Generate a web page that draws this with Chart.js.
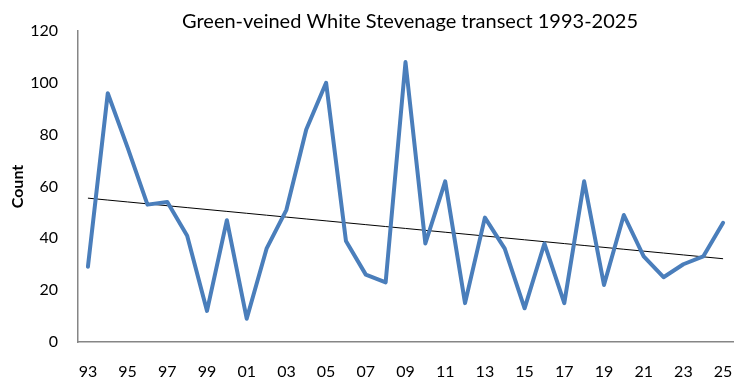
<!DOCTYPE html>
<html>
<head>
<meta charset="utf-8">
<script src="https://cdn.jsdelivr.net/npm/chart.js@4"></script>
<style>
  html, body { margin: 0; padding: 0; background: #fff; }
  #wrap { width: 746px; height: 386px; }
</style>
</head>
<body>
<div id="wrap"><canvas id="gvwChart" width="746" height="386"></canvas></div>
<script>
// Green-veined White counts, Stevenage transect
const years = ['93','94','95','96','97','98','99','00','01','02','03','04','05','06','07','08','09',
               '10','11','12','13','14','15','16','17','18','19','20','21','22','23','24','25'];
const counts = [29, 96, 75, 53, 54, 41, 12, 47, 9, 36, 51, 82, 100, 39, 26, 23, 108,
                38, 62, 15, 48, 36, 13, 38, 15, 62, 22, 49, 33, 25, 30, 33, 46];
const yTicks = [0, 20, 40, 60, 80, 100, 120];

// linear trendline (least squares over the year index)
function trend(values) {
    const n = values.length;
    let sx = 0, sy = 0, sxy = 0, sxx = 0;
    values.forEach((v, i) => { sx += i; sy += v; sxy += i * v; sxx += i * i; });
    const slope = (n * sxy - sx * sy) / (n * sxx - sx * sx);
    const icpt = (sy - slope * sx) / n;
    return values.map((v, i) => icpt + slope * i);
}

// title centred over the plot area, like the original
const titlePlugin = {
    id: 'plotTitle',
    afterDraw(chart) {
        const c = chart.ctx;
        c.save();
        c.font = '20px Lato';
        c.fillStyle = '#000';
        c.textAlign = 'center';
        c.textBaseline = 'alphabetic';
        c.fillText('Green-veined White Stevenage transect 1993-2025', 410, 28);
        c.restore();
    }
};

const ctx = document.getElementById('gvwChart').getContext('2d');

const gvwChart = new Chart(ctx, {
    type: 'line',
    data: {
        labels: years,
        datasets: [{
            label: 'Count',
            data: counts,
            borderColor: '#4A7EBB',
            borderWidth: 4,
            borderJoinStyle: 'round',
            borderCapStyle: 'round',
            pointRadius: 0,
            tension: 0
        }, {
            label: 'Trend',
            data: trend(counts),
            borderColor: '#000',
            borderWidth: 1,
            pointRadius: 0,
            tension: 0
        }]
    },
    options: {
        responsive: false,
        animation: false,
        devicePixelRatio: 1,
        layout: { padding: { top: 31, right: 13, left: 0, bottom: 0 } },
        plugins: { legend: { display: false }, tooltip: { enabled: false } },
        scales: {
            x: {
                offset: true,
                grid: { display: false },
                border: { color: '#868686', width: 1.5 },
                ticks: {
                    autoSkip: false,
                    maxRotation: 0,
                    padding: 12,
                    color: '#000',
                    font: { family: 'Lato', size: 16 },
                    callback: (v, i) => (i % 2 === 0 ? years[i] : '')
                },
                afterFit: (s) => { s.height = 44; }
            },
            y: {
                min: 0,
                max: 120,
                grid: { display: false },
                border: { color: '#868686', width: 1.5 },
                afterBuildTicks: (s) => { s.ticks = yTicks.map(v => ({ value: v })); },
                ticks: {
                    padding: 12,
                    color: '#000',
                    font: { family: 'Lato', size: 16 }
                },
                title: {
                    display: true,
                    text: 'Count',
                    color: '#000',
                    padding: { top: 8, bottom: 4 },
                    font: { family: 'Lato', size: 16, weight: 'bold' }
                },
                afterFit: (s) => { s.width = 78; }
            }
        }
    },
    plugins: [titlePlugin]
});
</script>
</body>
</html>
